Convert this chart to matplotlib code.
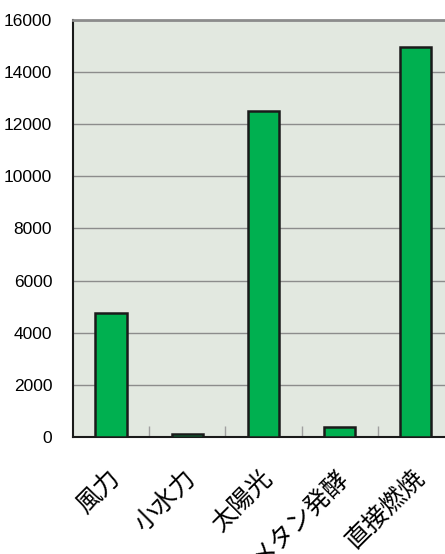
import numpy as np
import matplotlib.pyplot as plt

plt.rcParams['font.family'] = ['Noto Sans CJK JP', 'DejaVu Sans']

# data
categories = ['風力', '小水力', '太陽光', 'メタン発酵', '直接燃焼']
values = [4750, 100, 12520, 380, 14950]
y_ticks = [0, 2000, 4000, 6000, 8000, 10000, 12000, 14000, 16000]

fig = plt.figure(figsize=(4.45, 5.54), dpi=100)
ax = fig.add_axes([0.164, 0.2112, 0.856, 0.7527])
ax.set_facecolor('#e2e8e0')

x = np.arange(len(categories))
ax.bar(x, values, width=0.41, color='#00b050', edgecolor='#1a1a1a', linewidth=1.8, zorder=3)

ax.set_xlim(-0.5, len(categories) - 0.5)
ax.set_ylim(0, 16000)
ax.set_yticks(y_ticks)
ax.set_yticklabels([str(v) for v in y_ticks], family='Liberation Sans', fontsize=12.5)
ax.yaxis.grid(True, color='#8c8c8c', linewidth=1.0, zorder=1)
ax.tick_params(axis='y', length=0, pad=15)

ax.set_xticks(x - 0.06)
ax.set_xticklabels(categories, rotation=45, ha='right', va='top', rotation_mode='anchor', fontsize=18)
ax.tick_params(axis='x', length=0, pad=20)
ax.set_xticks(x[:-1] + 0.5, minor=True)
ax.tick_params(axis='x', which='minor', direction='in', length=8, color='#a0a0a0', width=1.0)

ax.spines['left'].set_color('#1a1a1a')
ax.spines['left'].set_linewidth(1.5)
ax.spines['bottom'].set_color('#1a1a1a')
ax.spines['bottom'].set_linewidth(1.5)
ax.spines['top'].set_color('#8c8c8c')
ax.spines['top'].set_linewidth(2)
ax.spines['right'].set_visible(False)

fig.savefig('out.png', dpi=100)
